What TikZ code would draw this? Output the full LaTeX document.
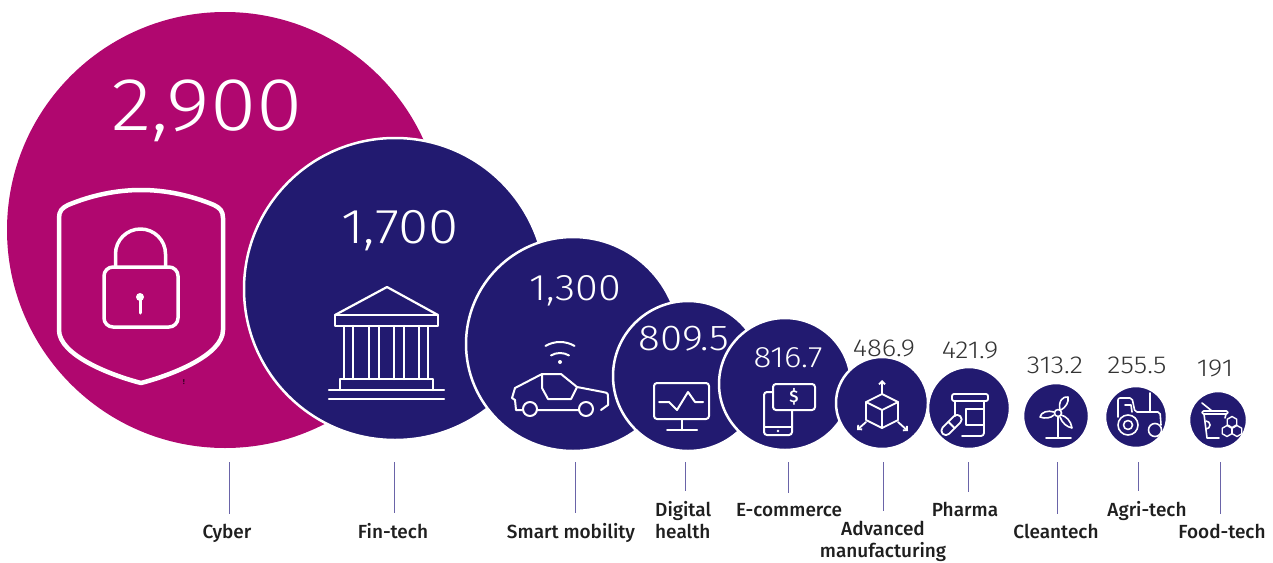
\documentclass[tikz,border=0pt]{standalone}
\usepackage{fontspec}
\setmainfont{Fira Sans}[UprightFont={* Medium}]
\newfontfamily\numfont{Fira Sans}[UprightFont={* Light}, FakeStretch=1.12]
\usetikzlibrary{arrows.meta}

\definecolor{cybermagenta}{HTML}{B0076F}
\definecolor{sectornavy}{HTML}{221A70}
\definecolor{valuegray}{HTML}{333333}
\definecolor{tickline}{HTML}{6A64A8}

\tikzset{
  bubble/.style={circle, draw=white, line width=2.5pt, fill=sectornavy, inner sep=0pt, minimum size=#1},
  value/.style={font=\numfont\fontsize{#1}{#1}\selectfont, text=white, anchor=base, inner sep=0pt},
  sector/.style={font=\fontsize{19}{22}\selectfont, text=black!88, anchor=base, inner sep=0pt, outer ysep=10pt, align=center},
  tick/.style={draw=tickline, line width=1pt},
  icon/.style={draw=white, line width=#1, line join=round, line cap=round},
}

\begin{document}
\begin{tikzpicture}[x=1pt, y=-1pt]
\useasboundingbox (0,0) rectangle (1273,562);

% bubbles, biggest first
\node[bubble=436pt, fill=cybermagenta, draw=none] (cyber) at (225,230) {};
\node[bubble=302pt] (fintech)       at (395,289)  {};
\node[bubble=214pt] (mobility)      at (573,344)  {};
\node[bubble=150pt] (health)        at (688,376)  {};
\node[bubble=132pt] (ecommerce)     at (785,384)  {};
\node[bubble=92pt]  (manufacturing) at (882,403)  {};
\node[bubble=82pt]  (pharma)        at (969,408)  {};
\node[bubble=66pt]  (cleantech)     at (1056,416) {};
\node[bubble=62pt]  (agritech)      at (1136,417) {};
\node[bubble=58pt]  (foodtech)      at (1218,420) {};

% values
\node[value=75] (cyber value)     at (207,130) {2,900};
\node[value=49] (fintech value)   at (400,243) {1,700};
\node[value=37] (mobility value)  at (575,300) {1,300};
\node[value=36] (health value)    at (684,350) {809.5};
\node[value=29.5] (ecommerce value) at (788,367) {816.7};
\node[value=24.5, text=valuegray] (manufacturing value) at (884,356) {486.9};
\node[value=24.5, text=valuegray] (pharma value)        at (970,358) {421.9};
\node[value=24.5, text=valuegray] (cleantech value)     at (1055,373) {313.2};
\node[value=24.5, text=valuegray] (agritech value)      at (1137,373) {255.5};
\node[value=24.5, text=valuegray] (foodtech value)      at (1215,376) {191};

% shield and lock
\draw[icon=4.5pt] (59,300) -- (59,330) .. controls (59,355) and (110,375) .. (141,383)
  .. controls (172,375) and (223,355) .. (223,330) -- (223,218)
  .. controls (223,211) and (220,208) .. (214,205) .. controls (190,195) and (165,190) .. (141,190)
  .. controls (117,190) and (92,195) .. (68,205) .. controls (62,208) and (59,211) .. (59,218) -- cycle;
\draw[icon=3.5pt] (115.5,266) -- (115.5,254) arc[start angle=180, end angle=360, radius=25] -- (165.5,266);
\draw[icon=3.5pt, rounded corners=9pt] (104,267) rectangle (178,327);
\fill[white] (140,297) circle[radius=4];
\draw[icon=3pt] (140,297) -- (140,313);
\node[font=\fontsize{7}{7}\selectfont, inner sep=0pt, anchor=base] (mark) at (184,384) {!};

% bank
\draw[icon=2.2pt] (335,315) -- (387,287) -- (438,315);
\draw[icon=2.2pt] (335,315) rectangle (438,326);
\draw[icon=2.2pt] (344,326) -- (344,379) (353,326) -- (353,379)
                  (369,326) -- (369,379) (379,326) -- (379,379)
                  (394,326) -- (394,379) (404,326) -- (404,379)
                  (419,326) -- (419,379) (428,326) -- (428,379);
\draw[icon=2.2pt] (340,390) -- (340,379) -- (433,379) -- (433,390);
\draw[icon=2.2pt] (329,390) -- (444,390) (329,399) -- (444,399);

% connected car
\fill[white] (560,362) circle[radius=2];
\draw[icon=2pt] (560,371) ++(240:18) arc[start angle=240, end angle=300, radius=18];
\draw[icon=2pt] (560,371) ++(240:29) arc[start angle=240, end angle=300, radius=29];
\draw[icon=2pt] (522,410) -- (516,410) -- (515,400) -- (512,398) -- (515,388) -- (542,374) -- (561,374)
  -- (577,387) -- (603,392) .. controls (608,393) .. (608,398) -- (608,405) -- (601,410);
\draw[icon=2pt] (542,374) -- (542,388) -- (548,399) -- (571,399) -- (577,387);
\draw[icon=2pt] (530,409) circle[radius=7] (586,409) circle[radius=7] (538,410) -- (578,410);

% monitor
\draw[icon=2pt, rounded corners=3pt] (654,383) rectangle (709,419);
\draw[icon=2pt] (659,402) -- (669,402) -- (677,410) -- (688,392) -- (695,402) -- (703,402);
\draw[icon=2pt] (682,419) -- (682,430) (667,430) -- (697,430);

% phone and bill
\draw[icon=2pt, rounded corners=3pt] (773,392) -- (764,392) -- (764,435) -- (792,435) -- (792,410);
\draw[icon=2pt] (764,427) -- (792,427);
\fill[white] (778,431) circle[radius=1.3];
\draw[icon=2pt, rounded corners=3pt] (773,384) rectangle (815,410);
\node[font=\fontsize{17}{17}\selectfont, text=white, inner sep=0pt] (dollar) at (794,397) {\$};

% cube with arrows
\draw[icon=1.8pt] (882,394) -- (866,402) -- (866,420) -- (882,428) -- (898,420) -- (898,402) -- cycle;
\draw[icon=1.8pt] (866,402) -- (882,410) -- (898,402) (882,410) -- (882,428);
\draw[icon=1.8pt, -{Straight Barb[length=3pt,width=6pt]}] (882,394) -- (882,380);
\draw[icon=1.8pt, -{Straight Barb[length=3pt,width=6pt]}] (866,422) -- (857,430);
\draw[icon=1.8pt, -{Straight Barb[length=3pt,width=6pt]}] (898,422) -- (908,431);

% pill bottle
\draw[icon=1.8pt, rounded corners=2pt] (952,394) rectangle (988,401);
\draw[icon=1.8pt, rounded corners=3pt] (955,401) -- (955,416) (962,436) -- (984,436) -- (984,401);
\draw[icon=1.8pt] (966,409) rectangle (984,425);
\draw[icon=1.8pt, rounded corners=4.5pt, rotate around={45:(951.5,425)}] (939,420.5) rectangle (964,429.5);
\draw[icon=1.8pt, rotate around={45:(951.5,425)}] (951.5,420.5) -- (951.5,429.5);

% wind turbine
\draw[icon=1.6pt] (1058,413) circle[radius=3.5];
\draw[icon=1.6pt] (1058,417) -- (1058,438) (1046,438) -- (1071,438);
\draw[icon=1.6pt] (1060,410) .. controls (1058,401) and (1063,396) .. (1068,397) .. controls (1069,402) and (1066,407) .. (1061,410);
\draw[icon=1.6pt] (1054,412) .. controls (1048,410) and (1041,412) .. (1040,417) .. controls (1045,419) and (1051,418) .. (1054,415);
\draw[icon=1.6pt] (1061,415) .. controls (1066,416) and (1071,421) .. (1072,428) .. controls (1067,427) and (1062,423) .. (1060,417);

% tractor
\draw[icon=1.6pt, rounded corners=2pt] (1118,417) -- (1118,398) -- (1132,398) -- (1135,412) -- (1160,412) -- (1161,425);
\draw[icon=1.6pt] (1125,405) -- (1131,405) -- (1132,412);
\draw[icon=1.6pt] (1150,393) -- (1150,412);
\draw[icon=1.6pt] (1128,425) circle[radius=10] (1128,425) circle[radius=4.5] (1155,430) circle[radius=6.5];

% cup with honeycomb
\draw[icon=1.6pt] (1202,403) -- (1212,411);
\draw[icon=1.6pt, rounded corners=1.5pt] (1202,411) rectangle (1228,414);
\draw[icon=1.6pt] (1204,414) -- (1207,438) -- (1219,438) (1226,414) -- (1225,418);
\draw[icon=1.6pt] (1206,421) arc[start angle=270, end angle=450, radius=4];
\foreach \hx/\hy in {1232/422, 1227/431, 1237/431}
  \draw[icon=1.4pt] (\hx,\hy) +(30:5.5) -- +(90:5.5) -- +(150:5.5) -- +(210:5.5) -- +(270:5.5) -- +(330:5.5) -- cycle;

% labels
\node[sector] (cyber label)         at (227,538)  {Cyber};
\node[sector] (fintech label)       at (393,538)  {Fin-tech};
\node[sector] (mobility label)      at (571,538)  {Smart mobility};
\node[sector, anchor=base west, align=left] (health label) at (655,538) {Digital\\health};
\node[sector] (ecommerce label)     at (789,516)  {E-commerce};
\node[sector] (manufacturing label) at (883,557)  {Advanced\\manufacturing};
\node[sector] (pharma label)        at (965,516)  {Pharma};
\node[sector] (cleantech label)     at (1056,538) {Cleantech};
\node[sector] (agritech label)      at (1147,516) {Agri-tech};
\node[sector] (foodtech label)      at (1222,538) {Food-tech};

% ticks
\coordinate (cyber tick)         at (229,462);
\coordinate (fintech tick)       at (394,462);
\coordinate (mobility tick)      at (575,462);
\coordinate (health tick)        at (685,462);
\coordinate (ecommerce tick)     at (788,462);
\coordinate (manufacturing tick) at (883,462);
\coordinate (pharma tick)        at (968,462);
\coordinate (cleantech tick)     at (1057,462);
\coordinate (agritech tick)      at (1138,462);
\coordinate (foodtech tick)      at (1220,462);
\foreach \s in {cyber, fintech, mobility, health, ecommerce, manufacturing, pharma, cleantech, agritech, foodtech}
  \draw[tick] (\s\space tick) -- (\s\space tick |- \s\space label.north);
\end{tikzpicture}
\end{document}
